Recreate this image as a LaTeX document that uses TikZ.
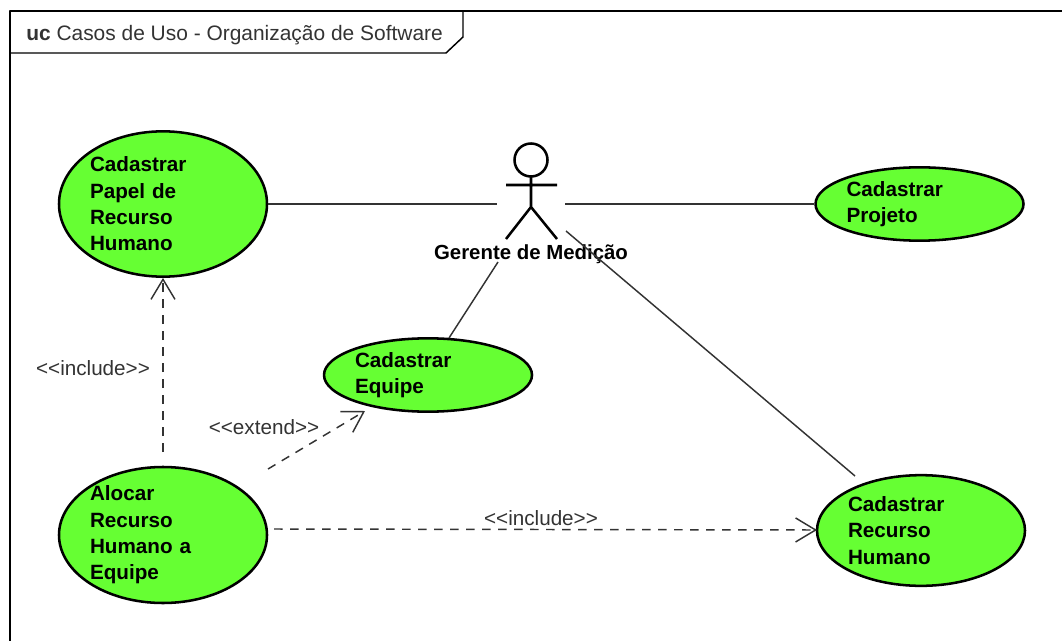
\documentclass[tikz,border=0pt]{standalone}
\usepackage{fontspec}
\setmainfont{Liberation Sans}
\usetikzlibrary{arrows.meta,shapes.geometric}
\definecolor{ucgreen}{HTML}{66FF33}
\definecolor{ucgray}{HTML}{333333}
\tikzset{
usecase/.style={ellipse,draw,line width=1.9pt,fill=ucgreen,inner sep=0pt,text width=109.5pt,align=left,minimum width=156pt,font=\fontsize{15.5}{19.7}\selectfont\bfseries},
lbl/.style={font=\fontsize{15.5}{17}\selectfont,text=ucgray,inner sep=0pt},
conn/.style={line width=1.1pt,draw=ucgray},
dep/.style={conn,dash pattern=on 6.5pt off 5.5pt,->}
}
\newcommand{\stereo}[1]{{<}{<}#1{>}{>}}
\begin{document}
\begin{tikzpicture}[x=.75pt,y=-.75pt,>={Straight Barb[length=15pt,width=18pt,line width=1.1pt]},line join=round]
\useasboundingbox (0,0) rectangle (1062,641);
\draw[line width=1.1pt] (10,641)--(10,11)--(1062,11);
\draw[line width=1.1pt] (10,53)--(446,53)--(463,37)--(463,11);
\node[lbl,anchor=base west,text=black!80,font=\fontsize{15.7}{17}\selectfont] (titulo) at (26,41) {\textbf{uc} Casos de Uso - Organização de Software};
\node[usecase,minimum height=109pt] (papel) at (163,204) {Cadastrar\\Papel de\\Recurso\\Humano};
\node[usecase,minimum height=55pt] (projeto) at (919.5,204) {Cadastrar\\Projeto};
\node[usecase,minimum height=55pt] (equipe) at (428,375) {Cadastrar\\Equipe};
\node[usecase,minimum height=102pt,inner ysep=-1pt] (alocar) at (163,535) {Alocar\\Recurso\\Humano a\\Equipe\\[12pt]};
\node[usecase,minimum height=83pt] (recurso) at (921,530.5) {Cadastrar\\Recurso\\Humano};
\draw[line width=1.9pt] (531,160) circle (16.5);
\draw[line width=1.9pt] (531,176.5)--(531,207) (506,185)--(557,185) (506,239)--(531,207)--(557,239);
\node[font=\fontsize{15.3}{17}\selectfont\bfseries,inner sep=0pt] (gerente) at (531,254) {Gerente de Medição};
\path (497,204) coordinate (g1)
(565,204) coordinate (g2)
(498,262) coordinate (g3)
(566,231) coordinate (g4)
(855,476) coordinate (r1)
(449,338) coordinate (e1)
(163,452) coordinate (a1)
(268,469) coordinate (a2)
(365,411) coordinate (e2)
(274,529) coordinate (a3)
(817,530) coordinate (r2);
\draw[conn] (papel.east)--(g1);
\draw[conn] (g2)--(projeto.west);
\draw[conn] (g3)--(e1);
\draw[conn] (g4)--(r1);
\draw[dep] (a1)--(papel.south);
\draw[dep] (a2)--(e2);
\draw[dep] (a3)--(r2);
\node[lbl] (inc1) at (93,368) {\stereo{include}};
\node[lbl] (ext) at (264,427) {\stereo{extend}};
\node[lbl] (inc2) at (541,518) {\stereo{include}};
\end{tikzpicture}
\end{document}
